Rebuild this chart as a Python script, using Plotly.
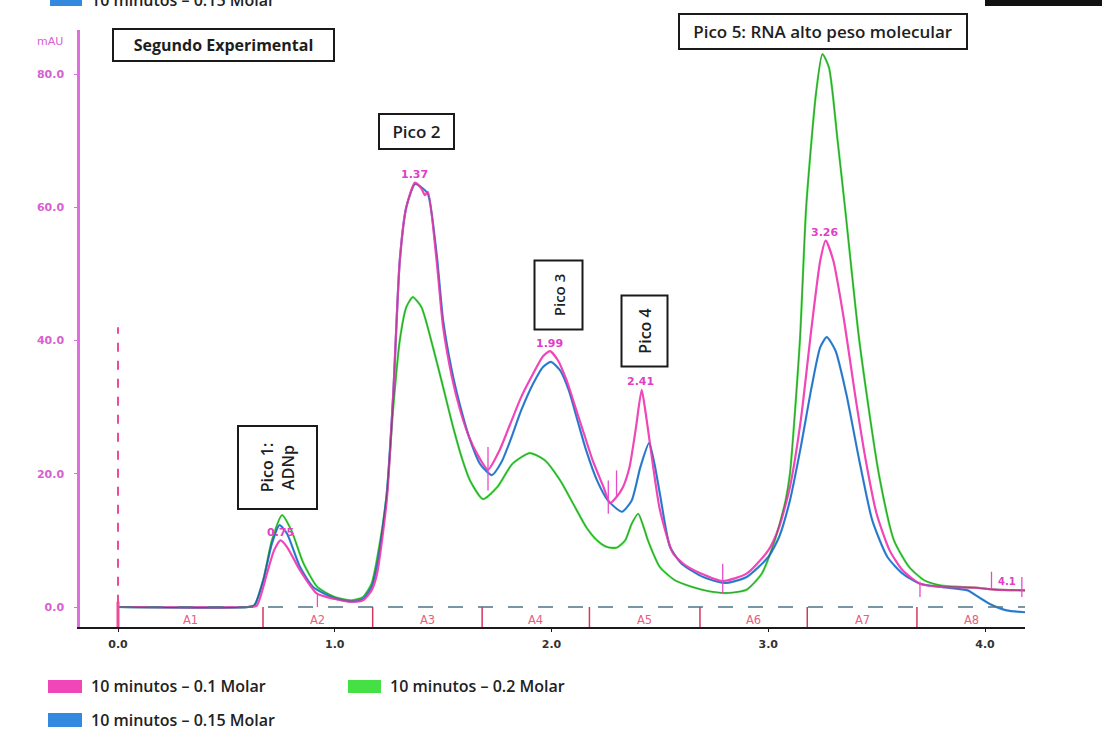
import plotly.graph_objects as go

# ---------------- data ----------------
t_01 = [0.00, 0.60, 0.64, 0.687, 0.72, 0.75, 0.78, 0.84, 0.918, 1.00, 1.07, 1.13, 1.17, 1.195,
        1.24, 1.27, 1.30, 1.33, 1.37, 1.40, 1.416, 1.43, 1.47, 1.50, 1.54, 1.578, 1.62, 1.66,
        1.707, 1.76, 1.81, 1.86, 1.915, 1.96, 1.993, 2.03, 2.07, 2.10, 2.15, 2.19, 2.24, 2.27,
        2.30, 2.33, 2.36, 2.39, 2.416, 2.435, 2.454, 2.50, 2.56, 2.62, 2.685, 2.79, 2.90, 3.00,
        3.05, 3.10, 3.15, 3.20, 3.24, 3.265, 3.30, 3.35, 3.40, 3.45, 3.50, 3.56, 3.62, 3.70,
        3.80, 3.95, 4.05, 4.19]
v_01 = [0, 0, 0.2, 5, 8.5, 10, 9, 5.5, 2, 1.2, 0.8, 1.0, 2.5, 5,
        16, 32, 52, 60, 63.7, 62.8, 61.8, 62.3, 52, 42, 34.6, 29.6, 25.5, 22.8,
        20.6, 23.5, 27.5, 31.5, 35, 37.6, 38.4, 37, 34, 31, 26, 22, 18, 15.6,
        16.5, 18, 21, 27, 32.6, 29, 24.6, 14.6, 8.1, 6.2, 5.1, 3.9, 5.0, 8.5,
        12, 18, 28, 42, 52, 55, 52, 43, 32, 22, 14, 8.5, 5.5, 3.5,
        3.0, 2.9, 2.6, 2.5]

t_015 = [0.00, 0.60, 0.63, 0.67, 0.71, 0.745, 0.78, 0.84, 0.90, 1.00, 1.08, 1.13, 1.17, 1.20,
         1.24, 1.27, 1.30, 1.33, 1.37, 1.40, 1.43, 1.47, 1.50, 1.54, 1.58, 1.62, 1.67, 1.725,
         1.77, 1.81, 1.86, 1.915, 1.96, 1.997, 2.04, 2.08, 2.12, 2.16, 2.21, 2.26, 2.325, 2.37,
         2.41, 2.45, 2.475, 2.50, 2.547, 2.60, 2.70, 2.80, 2.90, 3.00, 3.05, 3.10, 3.15, 3.20,
         3.24, 3.27, 3.31, 3.36, 3.42, 3.48, 3.55, 3.62, 3.70, 3.80, 3.92, 3.97, 4.02, 4.10, 4.19]
v_015 = [0, 0, 0.3, 4, 9.5, 12.3, 11, 6, 3, 1.3, 0.8, 1.2, 3, 7,
         17, 32, 52, 60, 63.5, 63, 62, 53, 43, 35.5, 30, 25.5, 21.5, 19.8,
         21.8, 25, 29.5, 33.5, 36, 36.8, 35.5, 32.5, 28, 23.5, 19, 16, 14.3, 16,
         21, 24.6, 21.5, 17, 9, 6.5, 4.5, 3.6, 4.5, 7.5, 10.5, 16, 24, 33,
         39, 40.5, 38.5, 32, 22, 13, 7.5, 5, 3.5, 3.0, 2.5, 1.5, 0.5, -0.5, -0.8]

t_02 = [0.00, 0.60, 0.63, 0.67, 0.71, 0.757, 0.80, 0.855, 0.92, 1.00, 1.08, 1.13, 1.17, 1.21,
        1.24, 1.27, 1.30, 1.33, 1.36, 1.40, 1.453, 1.50, 1.546, 1.59, 1.624, 1.684, 1.75, 1.82,
        1.90, 1.97, 2.04, 2.10, 2.16, 2.21, 2.256, 2.30, 2.34, 2.37, 2.40, 2.425, 2.445, 2.50,
        2.57, 2.65, 2.72, 2.81, 2.90, 2.97, 3.03, 3.08, 3.10, 3.146, 3.175, 3.22, 3.25, 3.28,
        3.32, 3.354, 3.42, 3.51, 3.58, 3.65, 3.72, 3.80, 3.95, 4.05, 4.19]
v_02 = [0, 0, 0.3, 4, 10, 13.8, 11.5, 6.6, 3, 1.5, 1.0, 1.5, 3.5, 10,
        17, 30, 40, 45, 46.5, 45, 39, 33, 27, 22, 19, 16.2, 18, 21.5,
        23.1, 22, 19, 15.5, 12, 10, 9, 8.9, 10, 12.5, 14, 12, 10, 6,
        4, 3, 2.4, 2.1, 2.6, 5, 10, 16, 20, 40, 60, 77, 83, 81,
        70, 60, 40, 20, 10, 6, 4, 3.2, 2.9, 2.6, 2.5]

series_names = ["10 minutos – 0.1 Molar", "10 minutos – 0.15 Molar", "10 minutos – 0.2 Molar"]

peak_t = [0.75, 1.37, 1.99, 2.41, 3.26]
peak_v = [10, 63.7, 38.4, 32.6, 55]

area_bounds = [0.0, 0.669, 1.175, 1.68, 2.175, 2.685, 3.18, 3.686, 4.19]
area_labels = ["A1", "A2", "A3", "A4", "A5", "A6", "A7", "A8"]

integ_t = [0.92, 1.707, 2.262, 2.30, 2.79, 3.70, 4.03, 4.17]
integ_lo = [0.0, 17.5, 14.0, 16.5, 2.0, 1.5, 2.8, 1.5]
integ_hi = [1.8, 24.0, 19.0, 20.5, 6.5, 3.8, 5.3, 4.5]

y_ticks = [0, 20, 40, 60, 80]
x_ticks = [0, 1, 2, 3, 4]

# ---------------- styling ----------------
PINK = "#f046b8"
BLUE = "#3389e0"
GREEN = "#44e044"
AXPINK = "#dd70dd"
LBLPINK = "#d860d0"
AREARED = "#d2385e"
TXT = "Open Sans"

W, H = 1102, 740
L, R, T, B = 80, 1025, 30, 627


def pp(xp, yp):
    return (xp - L) / (R - L), (B - yp) / (B - T)


fig = go.Figure()

for t, v, c, n in [(t_02, v_02, GREEN, series_names[2]),
                   (t_015, v_015, BLUE, series_names[1]),
                   (t_01, v_01, PINK, series_names[0])]:
    fig.add_trace(go.Scatter(x=t, y=v, mode="lines", name=n,
                             line=dict(color=c, width=2.2, shape="spline", smoothing=0.6),
                             showlegend=False, hoverinfo="x+y+name"))
# dark core on green / blue like the original rendering
fig.add_trace(go.Scatter(x=t_02, y=v_02, mode="lines", showlegend=False, hoverinfo="skip",
                         line=dict(color="#2b3b22", width=0.8, shape="spline", smoothing=0.6),
                         opacity=0.55))
fig.add_trace(go.Scatter(x=t_015, y=v_015, mode="lines", showlegend=False, hoverinfo="skip",
                         line=dict(color="#1c2f55", width=0.8, shape="spline", smoothing=0.6),
                         opacity=0.35))

shapes = []
# dashed baseline
shapes.append(dict(type="line", xref="x", yref="y", x0=area_bounds[0], x1=area_bounds[-1],
                   y0=0, y1=0, line=dict(color="#4d7585", width=1.5, dash="longdash")))
# injection marker
shapes.append(dict(type="line", xref="x", yref="y", x0=0, x1=0, y0=0.5, y1=42,
                   line=dict(color="#ee4a9a", width=2, dash="dash")))
shapes.append(dict(type="line", xref="x", yref="y", x0=0, x1=0, y0=-3, y1=0.8,
                   line=dict(color="#ee4a9a", width=3)))
# area boundaries
for i, b in enumerate(area_bounds[1:]):
    last = i == len(area_bounds) - 2
    shapes.append(dict(type="line", xref="x", yref="y", x0=b, x1=b, y0=-3,
                       y1=2.5 if last else 0,
                       line=dict(color="#222222" if last else AREARED, width=1.5)))
# integration ticks
for tt, lo, hi in zip(integ_t, integ_lo, integ_hi):
    shapes.append(dict(type="line", xref="x", yref="y", x0=tt, x1=tt, y0=lo, y1=hi,
                       line=dict(color="#e64cc8", width=1.3)))

# legend squares + labels
leg = [(48, 680, 82, 693, PINK, series_names[0]),
       (348, 680, 381, 693, GREEN, series_names[2]),
       (48, 713, 82, 727, BLUE, series_names[1]),
       (50, -6, 82, 6, BLUE, series_names[1])]
ann = []
for x0p, y0p, x1p, y1p, c, n in leg:
    a0, b0 = pp(x0p, y1p)
    a1, b1 = pp(x1p, y0p)
    shapes.append(dict(type="rect", xref="paper", yref="paper", x0=a0, x1=a1, y0=b0, y1=b1,
                       fillcolor=c, line=dict(width=0)))
    ax, ay = pp(x1p + 7, (y0p + y1p) / 2 - 0.5)
    ann.append(dict(xref="paper", yref="paper", x=ax, y=ay, xanchor="left", yanchor="middle",
                    text=n, showarrow=False,
                    font=dict(family=TXT, size=16, color="#222222", weight=600)))
# cropped black bar top right
a0, b0 = pp(985, 6)
a1, b1 = pp(1102, -6)
shapes.append(dict(type="rect", xref="paper", yref="paper", x0=a0, x1=a1, y0=b0, y1=b1,
                   fillcolor="#111111", line=dict(width=0)))

# peak labels
for tt, vv in zip(peak_t, peak_v):
    ann.append(dict(xref="x", yref="y", x=tt, y=vv, yshift=8, text=f"{tt:.2f}", showarrow=False,
                    xanchor="center",
                    font=dict(family="DejaVu Sans", size=11, color="#e040c8", weight="bold")))
# area labels
for i, lab in enumerate(area_labels):
    ann.append(dict(xref="x", yref="y", x=(area_bounds[i] + area_bounds[i + 1]) / 2, y=-1.9,
                    text=lab, showarrow=False, xanchor="center",
                    font=dict(family="DejaVu Sans", size=11.5, color="#e8607e")))
ann.append(dict(xref="x", yref="y", x=4.10, y=3.9, text="4.1", showarrow=False, xanchor="center",
                font=dict(family="DejaVu Sans", size=10, color="#e040c8", weight="bold")))

# boxed comments
boxes = [
    ("Segundo Experimental", 223.5, 45, 219, 30, 0, 16, 700),
    ("Pico 2", 416.5, 131.5, 73, 33, 0, 17, 600),
    ("Pico 3", 558, 295.5, 67, 46, -90, 15, 600),
    ("Pico 4", 644, 331.5, 69, 44, -90, 16, 600),
    ("Pico 1:<br>ADNp", 277.5, 467.5, 81, 77, -90, 16, 600),
    ("Pico 5: RNA alto peso molecular", 823, 31.5, 286, 33, 0, 17, 600),
]
for txt, cx, cy, bw, bh, ang, fs, wt in boxes:
    ax, ay = pp(cx, cy)
    ann.append(dict(xref="paper", yref="paper", x=ax, y=ay, xanchor="center", yanchor="middle",
                    text=txt, showarrow=False, textangle=ang, width=bw, height=bh,
                    bordercolor="#1a1a1a", borderwidth=2, borderpad=0, bgcolor="white",
                    font=dict(family=TXT, size=fs, color="#1e1e1e", weight=wt)))
# y unit
ax, ay = pp(50, 42)
ann.append(dict(xref="paper", yref="paper", x=ax, y=ay, text="mAU", showarrow=False,
                xanchor="center", yanchor="middle",
                font=dict(family="DejaVu Sans", size=11, color=LBLPINK)))

x_lo = (L - 118) / 216.75
x_hi = (R - 118) / 216.75
y_lo = (607 - B) / 6.6625
y_hi = (607 - T) / 6.6625

fig.update_layout(
    width=W, height=H, margin=dict(l=L, r=W - R, t=T, b=H - B),
    paper_bgcolor="white", plot_bgcolor="white",
    shapes=shapes, annotations=ann, showlegend=False,
    xaxis=dict(range=[x_lo, x_hi], tickvals=x_ticks, ticktext=[f"{v:.1f}" for v in x_ticks],
               showgrid=False, zeroline=False, showline=True, linecolor="#1a1a1a", linewidth=2,
               ticks="outside", ticklen=3, tickcolor="#1a1a1a", ticklabelstandoff=3,
               tickfont=dict(family="DejaVu Sans", size=11, color="#333333", weight="bold")),
    yaxis=dict(range=[y_lo, y_hi], tickvals=y_ticks, ticktext=[f"{v:.1f}" for v in y_ticks],
               showgrid=False, zeroline=False, showline=True, linecolor=AXPINK, linewidth=2.5,
               ticks="outside", ticklen=3, tickcolor=AXPINK, ticklabelstandoff=8,
               tickfont=dict(family="DejaVu Sans", size=11, color=LBLPINK, weight="bold")),
)

fig.write_html("out.html", config={"displayModeBar": False},
               post_script="document.body.style.margin='0';")
